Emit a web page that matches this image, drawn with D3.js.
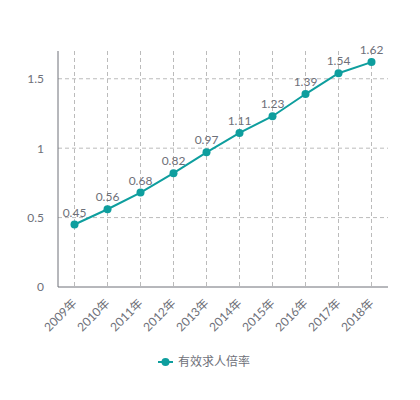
<!DOCTYPE html>
<html>
<head>
<meta charset="utf-8">
<script src="https://cdn.jsdelivr.net/npm/d3@7/dist/d3.min.js"></script>
<style>
  body { margin: 0; background: #fff; }
  svg { display: block; font-family: Lato, "Noto Sans CJK SC", sans-serif; }
</style>
</head>
<body>
<div id="chart"></div>
<script>
  'use strict';

  var years = ['2009年', '2010年', '2011年', '2012年', '2013年', '2014年', '2015年', '2016年', '2017年', '2018年'];
  var ratio = [0.45, 0.56, 0.68, 0.82, 0.97, 1.11, 1.23, 1.39, 1.54, 1.62];
  var yTicks = [0, 0.5, 1, 1.5];
  var seriesName = '有效求人倍率';

  var width = 420, height = 400;
  var margin = {top: 51, right: 32, bottom: 113, left: 58};
  var teal = '#0e9e9e';
  var grey = '#6e7079';

  var svg = d3.select('#chart').append('svg')
    .attr('width', width)
    .attr('height', height);

  var x = d3.scaleBand()
    .domain(years)
    .range([margin.left, width - margin.right]);

  var y = d3.scaleLinear()
    .domain([0, 1.7])
    .range([height - margin.bottom, margin.top]);

  var cx = function(d) { return x(d) + x.bandwidth() / 2; };

  // grid
  svg.append('g').selectAll('line')
    .data(yTicks.filter(function(d) { return d > 0; }))
    .enter().append('line')
    .attr('x1', margin.left).attr('x2', width - margin.right)
    .attr('y1', function(d) { return y(d); }).attr('y2', function(d) { return y(d); })
    .attr('stroke', '#bbb').attr('stroke-dasharray', '4,3');

  svg.append('g').selectAll('line')
    .data(years)
    .enter().append('line')
    .attr('x1', cx).attr('x2', cx)
    .attr('y1', margin.top).attr('y2', y(0))
    .attr('stroke', '#bbb').attr('stroke-dasharray', '4,3');

  // y axis
  var yAxis = svg.append('g')
    .attr('transform', 'translate(' + margin.left + ',0)')
    .call(d3.axisLeft(y).tickValues(yTicks).tickSize(0).tickPadding(14).tickFormat(d3.format('~g')));
  yAxis.select('.domain').attr('stroke', grey).attr('d', 'M0,' + margin.top + 'V' + y(0));
  yAxis.selectAll('text').attr('fill', grey).attr('font-size', 12).style('font-family', 'Lato, sans-serif');

  // x axis, labels turned 45deg and hung from the tick
  var xAxis = svg.append('g')
    .attr('transform', 'translate(0,' + y(0) + ')')
    .call(d3.axisBottom(x).tickSize(0));
  xAxis.select('.domain').attr('stroke', grey).attr('d', 'M' + margin.left + ',0H' + (width - margin.right));
  xAxis.selectAll('text')
    .attr('fill', grey).attr('font-size', 12)
    .style('font-family', 'Lato, "Noto Sans CJK SC", sans-serif')
    .attr('text-anchor', 'end')
    .attr('x', 0).attr('y', 0)
    .attr('dy', '0.35em')
    .attr('transform', 'translate(0,14) rotate(-45)');

  // line
  var line = d3.line()
    .x(function(d, i) { return cx(years[i]); })
    .y(function(d) { return y(d); });

  svg.append('path')
    .datum(ratio)
    .attr('fill', 'none')
    .attr('stroke', teal)
    .attr('stroke-width', 2)
    .attr('d', line);

  svg.append('g').selectAll('circle')
    .data(ratio)
    .enter().append('circle')
    .attr('cx', function(d, i) { return cx(years[i]); })
    .attr('cy', function(d) { return y(d); })
    .attr('r', 4)
    .attr('fill', teal);

  svg.append('g').selectAll('text')
    .data(ratio)
    .enter().append('text')
    .attr('x', function(d, i) { return cx(years[i]); })
    .attr('y', function(d) { return y(d) - 8; })
    .attr('text-anchor', 'middle')
    .attr('fill', grey)
    .attr('font-size', 12)
    .text(function(d) { return d; });

  // legend
  var lg = svg.append('g').attr('transform', 'translate(158,362)');
  lg.append('line').attr('x1', 0).attr('x2', 15).attr('stroke', teal).attr('stroke-width', 2);
  lg.append('circle').attr('cx', 7.5).attr('r', 4).attr('fill', teal);
  lg.append('text')
    .attr('x', 20).attr('dy', '0.35em')
    .attr('fill', grey).attr('font-size', 12)
    .style('font-family', '"Noto Sans CJK SC", sans-serif')
    .text(seriesName);
</script>
</body>
</html>
